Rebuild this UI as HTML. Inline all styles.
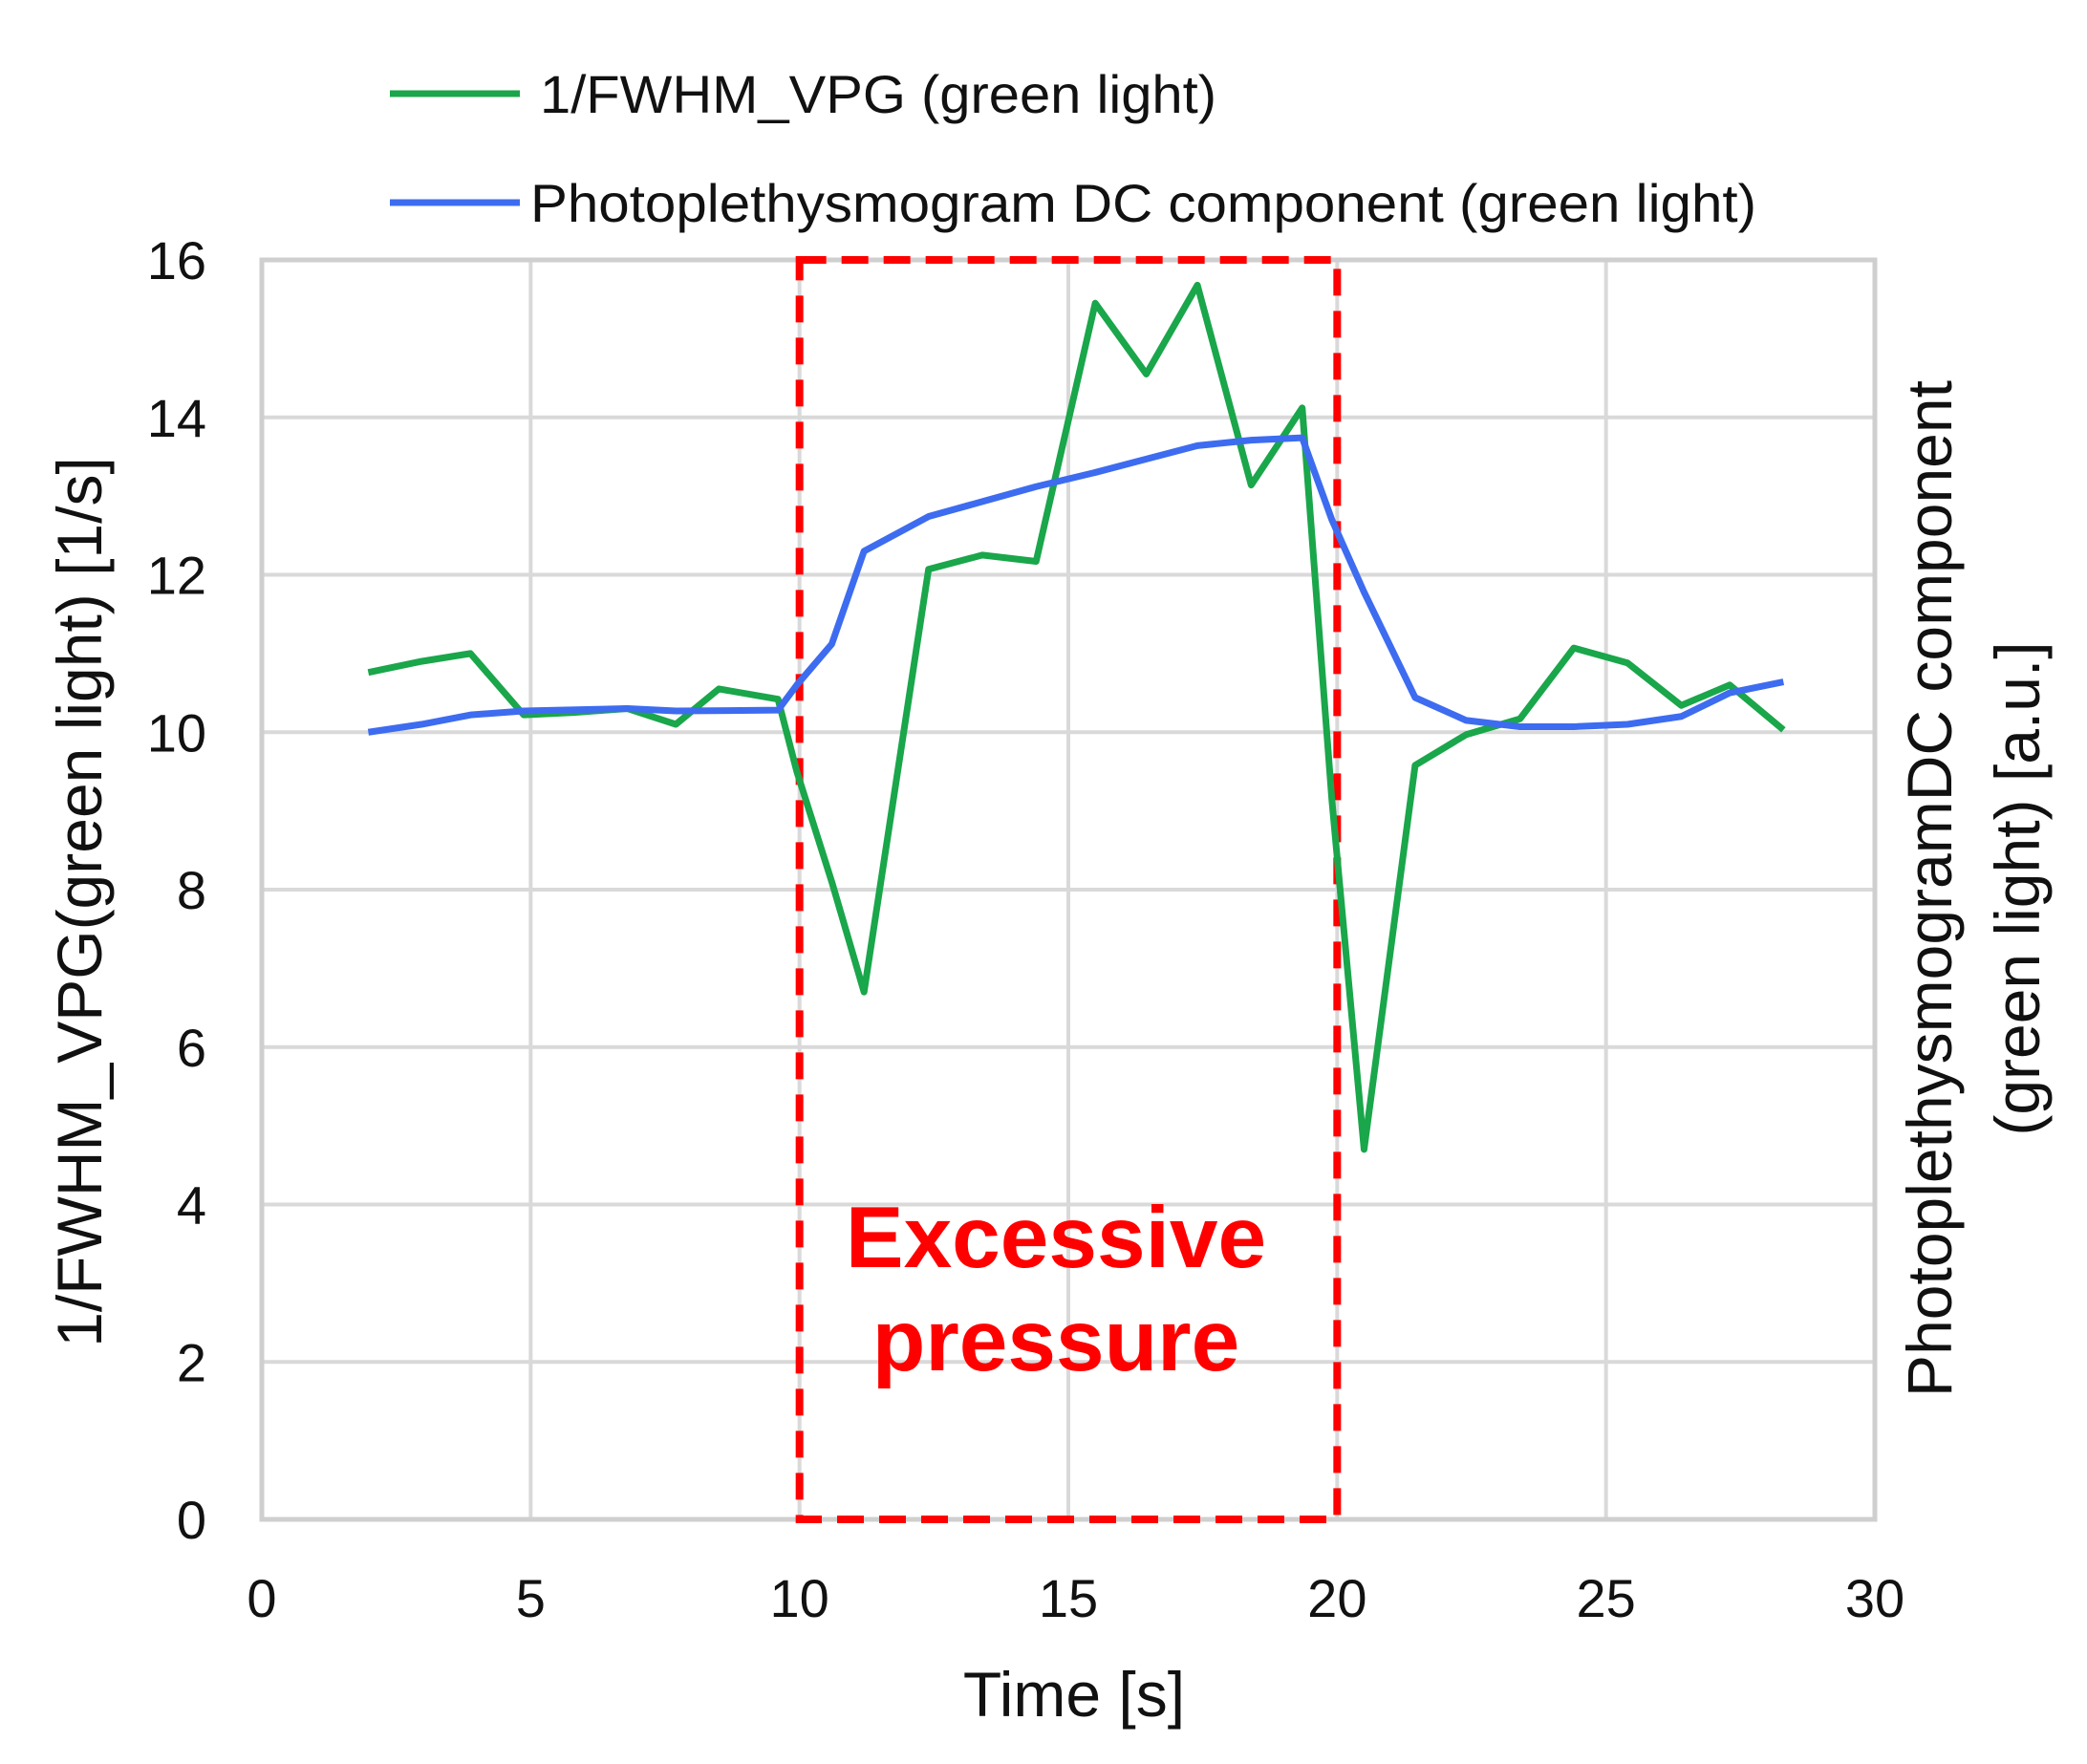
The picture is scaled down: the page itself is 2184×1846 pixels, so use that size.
<!DOCTYPE html>
<html><head><meta charset="utf-8">
<style>html,body{margin:0;padding:0;background:#fff}svg{display:block}text{font-family:"Liberation Sans",Arial,sans-serif;fill:#111}</style>
</head><body>
<svg id="chart" width="2184" height="1846" viewBox="0 0 2184 1846">
<g id="grid"></g>
<g id="ticks"></g>
<g id="series"></g>
<g>
 <line x1="408" y1="98" x2="544" y2="98" stroke="#1aa64a" stroke-width="7"/>
 <text x="565" y="118" font-size="56" textLength="708" lengthAdjust="spacingAndGlyphs">1/FWHM_VPG (green light)</text>
 <line x1="408" y1="212" x2="544" y2="212" stroke="#3d6cf0" stroke-width="7"/>
 <text x="555" y="232" font-size="56" textLength="1283" lengthAdjust="spacingAndGlyphs">Photoplethysmogram DC component (green light)</text>
</g>
<text x="1124" y="1796" font-size="66" text-anchor="middle">Time [s]</text>
<text transform="translate(106,944) rotate(-90)" font-size="66" text-anchor="middle">1/FWHM_VPG(green light) [1/s]</text>
<text transform="translate(2042,930) rotate(-90)" font-size="66" text-anchor="middle">PhotoplethysmogramDC component</text>
<text transform="translate(2134,930) rotate(-90)" font-size="66" text-anchor="middle">(green light) [a.u.]</text>
<text x="1105" y="1326" font-size="91" font-weight="bold" text-anchor="middle" style="fill:#f00">Excessive</text>
<text x="1105" y="1434" font-size="91" font-weight="bold" text-anchor="middle" style="fill:#f00">pressure</text>
</svg>
<script>
const xTicks=[0,5,10,15,20,25,30];
const yTicks=[0,2,4,6,8,10,12,14,16];
const fwhmT=[1.98,2.97,3.88,4.87,5.8,6.8,7.7,8.5,9.6,9.95,10.6,11.2,12.4,13.4,14.4,15.5,16.45,17.4,18.4,19.35,19.9,20.5,21.45,22.4,23.4,24.4,25.4,26.4,27.3,28.3];
const fwhmV=[10.76,10.9,11.0,10.22,10.25,10.3,10.1,10.55,10.42,9.5,8.1,6.7,12.07,12.25,12.17,15.45,14.55,15.68,13.14,14.12,9.15,4.7,9.58,9.97,10.17,11.07,10.88,10.34,10.6,10.03];
const dcT=[1.98,2.97,3.88,4.87,6.8,7.7,9.6,9.95,10.6,11.2,12.4,13.4,14.4,15.5,16.45,17.4,18.4,19.35,19.9,20.5,21.45,22.4,23.4,24.4,25.4,26.4,27.3,28.3];
const dcV=[10.0,10.1,10.22,10.27,10.3,10.27,10.28,10.6,11.12,12.3,12.74,12.93,13.12,13.3,13.47,13.64,13.71,13.74,12.7,11.78,10.44,10.15,10.07,10.07,10.1,10.2,10.5,10.64];
const regionStart=10, regionEnd=20;
const L=274,R=1962,T=272,B=1590;
const X=t=>L+(t-0)/30*(R-L);
const Y=v=>B-(v-0)/16*(B-T);
const NS='http://www.w3.org/2000/svg';
function mk(tag,parent,attrs){const e=document.createElementNS(NS,tag);for(const k in attrs)e.setAttribute(k,attrs[k]);parent.appendChild(e);return e;}
const grid=document.getElementById('grid'),ticks=document.getElementById('ticks'),series=document.getElementById('series');
xTicks.forEach(t=>{
 const l=mk('line',grid,{x1:X(t),x2:X(t),y1:T,y2:B,stroke:'#d9d9d9','stroke-width':4});
 
 
 const tx=mk('text',ticks,{x:X(t),y:1692,'font-size':56,'text-anchor':'middle'});tx.textContent=t;
 
 
});
yTicks.forEach(v=>{
 const l=mk('line',grid,{x1:L,x2:R,y1:Y(v),y2:Y(v),stroke:'#d9d9d9','stroke-width':4});
 
 
 const tx=mk('text',ticks,{x:216,y:Y(v)+20,'font-size':56,'text-anchor':'end'});tx.textContent=v;
 
 
});
const frame=mk('rect',grid,{x:L,y:T,width:R-L,height:B-T,fill:'none',stroke:'#cfcfcf','stroke-width':5});


const reg=mk('rect',series,{x:X(regionStart),y:T,width:X(regionEnd)-X(regionStart),height:B-T,fill:'none',stroke:'#f00','stroke-width':8,'stroke-dasharray':'28 16'});


const g=mk('polyline',series,{points:fwhmT.map((t,i)=>X(t)+','+Y(fwhmV[i])).join(' '),fill:'none',stroke:'#1aa64a','stroke-width':7,'stroke-linejoin':'round'});


const b=mk('polyline',series,{points:dcT.map((t,i)=>X(t)+','+Y(dcV[i])).join(' '),fill:'none',stroke:'#3d6cf0','stroke-width':7,'stroke-linejoin':'round'});


</script>
</body></html>
